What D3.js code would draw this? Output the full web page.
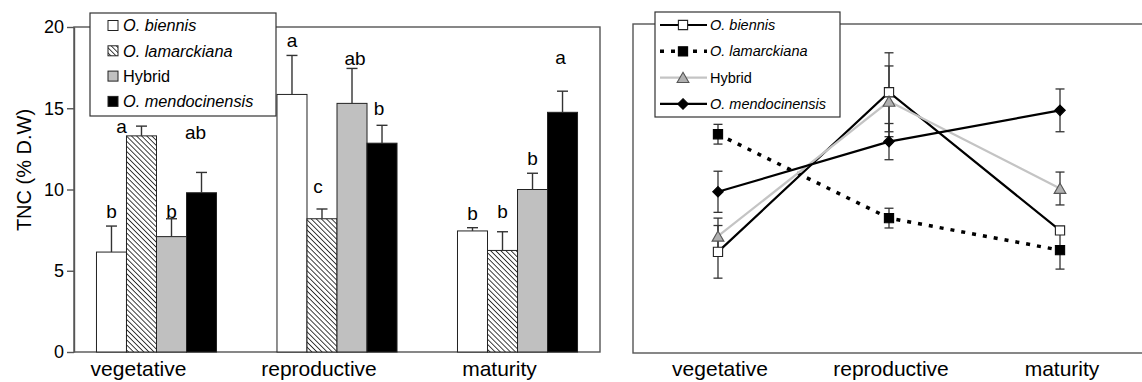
<!DOCTYPE html>
<meta charset="utf-8">
<style>
body { margin: 0; background: #fff; }
text { font-family: "Liberation Sans", Arial, sans-serif; fill: #000; }
</style>
<body>
<script src="https://d3js.org/d3.v7.min.js"></script>
<script>
var width = 1142,
    height = 382;

var stages = ["vegetative", "reproductive", "maturity"];
var species = ["O. biennis", "O. lamarckiana", "Hybrid", "O. mendocinensis"];
var italic = [true, true, false, true];

// mean TNC (% D.W) per species, in stage order
var biennis = [6.15, 15.85, 7.45];
var lamarckiana = [13.3, 8.2, 6.25];
var hybrid = [7.1, 15.3, 10.0];
var mendocinensis = [9.8, 12.85, 14.75];

// standard errors, in stage order
var biennisErr = [1.6, 2.4, 0.2];
var lamarckianaErr = [0.6, 0.6, 1.15];
var hybridErr = [1.1, 2.15, 1.0];
var mendocinensisErr = [1.25, 1.1, 1.3];

// significance letters per stage (species order)
var letters = [["b", "a", "b", "ab"], ["a", "c", "ab", "b"], ["b", "b", "b", "a"]];

var yTicks = [0, 5, 10, 15, 20];

var means = [biennis, lamarckiana, hybrid, mendocinensis];
var errs = [biennisErr, lamarckianaErr, hybridErr, mendocinensisErr];

var rows = [];
stages.forEach(function(st, i) {
  species.forEach(function(sp, j) {
    rows.push({stage: st, sp: sp, si: i, j: j, mean: means[j][i], err: errs[j][i], letter: letters[i][j]});
  });
});

var svg = d3.select("body").append("svg")
    .attr("width", width)
    .attr("height", height);

var defs = svg.append("defs");
var hatch = defs.append("pattern")
    .attr("id", "hatch")
    .attr("patternUnits", "userSpaceOnUse")
    .attr("width", 3.6)
    .attr("height", 3.6)
    .attr("patternTransform", "rotate(-45)");
hatch.append("rect").attr("width", 3.6).attr("height", 3.6).attr("fill", "#fff");
hatch.append("line")
    .attr("x1", 0).attr("y1", 0).attr("x2", 0).attr("y2", 3.6)
    .attr("stroke", "#111").attr("stroke-width", 1.6);

var fills = ["#fff", "url(#hatch)", "#c0c0c0", "#000"];
var axisColor = "#555";

// ---------------- left panel: bars ----------------
var x0 = d3.scaleBand()
    .domain(stages)
    .range([74, 600])
    .paddingInner(0.335)
    .paddingOuter(0.1245);
var x1 = d3.scaleBand()
    .domain(species)
    .range([0, x0.bandwidth()]);
var y = d3.scaleLinear()
    .domain([0, 20])
    .range([352, 27]);

var left = svg.append("g");

left.append("rect")
    .attr("x", x0.range()[0]).attr("y", y(20))
    .attr("width", x0.range()[1] - x0.range()[0])
    .attr("height", y(0) - y(20))
    .attr("fill", "none")
    .attr("stroke", axisColor)
    .attr("stroke-width", 1.4);

var yAxis = left.append("g")
    .attr("transform", "translate(" + x0.range()[0] + ",0)")
    .call(d3.axisLeft(y).tickValues(yTicks).tickSize(7).tickPadding(3).tickSizeOuter(0));
yAxis.select(".domain").attr("stroke", axisColor).attr("stroke-width", 1.4);
yAxis.selectAll(".tick line").attr("stroke", axisColor).attr("stroke-width", 1.4);
yAxis.selectAll("text").style("font-size", "18px").attr("fill", "#000");

left.append("text")
    .attr("transform", "translate(31,170) rotate(-90)")
    .attr("text-anchor", "middle")
    .style("font-size", "20px")
    .text("TNC (% D.W)");

// category labels sit a little left of the bar groups in the original
left.selectAll(".cat")
    .data(stages)
  .enter().append("text")
    .attr("x", function(d) { return x0(d) + x0.bandwidth() / 2 - 18; })
    .attr("y", 376)
    .attr("text-anchor", "middle")
    .style("font-size", "21px")
    .text(function(d) { return d; });

function bx(d) { return x0(d.stage) + x1(d.sp); }

left.selectAll(".bar")
    .data(rows)
  .enter().append("rect")
    .attr("x", bx)
    .attr("y", function(d) { return y(d.mean); })
    .attr("width", x1.bandwidth())
    .attr("height", function(d) { return y(0) - y(d.mean); })
    .attr("fill", function(d) { return fills[d.j]; })
    .attr("stroke", "#222")
    .attr("stroke-width", 1);

var eb = left.selectAll(".eb")
    .data(rows)
  .enter().append("g")
    .attr("stroke", "#333")
    .attr("stroke-width", 1.4);
eb.append("line")
    .attr("x1", function(d) { return bx(d) + x1.bandwidth() / 2; })
    .attr("x2", function(d) { return bx(d) + x1.bandwidth() / 2; })
    .attr("y1", function(d) { return y(d.mean); })
    .attr("y2", function(d) { return y(d.mean + d.err); });
eb.append("line")
    .attr("x1", function(d) { return bx(d) + x1.bandwidth() / 2 - 5.5; })
    .attr("x2", function(d) { return bx(d) + x1.bandwidth() / 2 + 5.5; })
    .attr("y1", function(d) { return y(d.mean + d.err); })
    .attr("y2", function(d) { return y(d.mean + d.err); });

// small hand placement of letters, as in the original figure
var nudge = [[0, 0], [-20, 15], [0, 7], [-6, -25],
             [0, 0], [-4, -8], [3, 5], [-3, -2],
             [0, 0], [0, -6], [0, 0], [-2, -19]];

left.selectAll(".letter")
    .data(rows)
  .enter().append("text")
    .attr("x", function(d, i) { return bx(d) + x1.bandwidth() / 2 + nudge[i][0]; })
    .attr("y", function(d, i) { return y(d.mean + d.err) - 8 + nudge[i][1]; })
    .attr("text-anchor", "middle")
    .style("font-size", "19px")
    .text(function(d) { return d.letter; });

// legend
var lg = left.append("g").attr("transform", "translate(90,13)");
lg.append("rect")
    .attr("width", 186).attr("height", 103)
    .attr("fill", "#fff")
    .attr("stroke", "#333")
    .attr("stroke-width", 1.2);
var lgi = lg.selectAll(".item")
    .data(species)
  .enter().append("g")
    .attr("transform", function(d, i) { return "translate(0," + (12.5 + i * 25.3) + ")"; });
lgi.append("rect")
    .attr("x", 18).attr("y", -5)
    .attr("width", 10).attr("height", 10)
    .attr("fill", function(d, i) { return fills[i]; })
    .attr("stroke", "#222");
lgi.append("text")
    .attr("x", 33)
    .attr("dy", "0.35em")
    .style("font-size", "16.3px")
    .style("font-style", function(d, i) { return italic[i] ? "italic" : "normal"; })
    .text(function(d) { return d; });

// ---------------- right panel: lines ----------------
var xr = d3.scalePoint()
    .domain(stages)
    .range([633, 1145])
    .padding(0.497);
var yr = d3.scaleLinear()
    .domain([0, 20])
    .range([353, 24]);

var right = svg.append("g");

right.append("rect")
    .attr("x", 633).attr("y", yr(20))
    .attr("width", 530)
    .attr("height", yr(0) - yr(20))
    .attr("fill", "none")
    .attr("stroke", axisColor)
    .attr("stroke-width", 1.4);

right.selectAll(".cat")
    .data(stages)
  .enter().append("text")
    .attr("x", function(d) { return xr(d) + 2; })
    .attr("y", 376)
    .attr("text-anchor", "middle")
    .style("font-size", "21px")
    .text(function(d) { return d; });

var lineStyle = [
  {stroke: "#000", width: 2.2, dash: null},
  {stroke: "#000", width: 3.5, dash: "4,7"},
  {stroke: "#c4c4c4", width: 2.2, dash: null},
  {stroke: "#000", width: 2.2, dash: null}
];
var markStyle = [
  {type: d3.symbolSquare, size: 85, fill: "#fff", stroke: "#222"},
  {type: d3.symbolSquare, size: 85, fill: "#000", stroke: "#000"},
  {type: d3.symbolTriangle, size: 60, fill: "#b0b0b0", stroke: "#555"},
  {type: d3.symbolDiamond2, size: 70, fill: "#000", stroke: "#000"}
];

var line = d3.line()
    .x(function(d) { return xr(d.stage); })
    .y(function(d) { return yr(d.mean); });

var bySp = species.map(function(sp) { return rows.filter(function(r) { return r.sp === sp; }); });

right.selectAll(".series")
    .data(bySp)
  .enter().append("path")
    .attr("d", line)
    .attr("fill", "none")
    .attr("stroke", function(d, i) { return lineStyle[i].stroke; })
    .attr("stroke-width", function(d, i) { return lineStyle[i].width; })
    .attr("stroke-dasharray", function(d, i) { return lineStyle[i].dash; });

var reb = right.selectAll(".eb")
    .data(rows)
  .enter().append("g")
    .attr("stroke", "#333")
    .attr("stroke-width", 1.3);
reb.append("line")
    .attr("x1", function(d) { return xr(d.stage); })
    .attr("x2", function(d) { return xr(d.stage); })
    .attr("y1", function(d) { return yr(d.mean - d.err); })
    .attr("y2", function(d) { return yr(d.mean + d.err); });
[-1, 1].forEach(function(s) {
  reb.append("line")
      .attr("x1", function(d) { return xr(d.stage) - 4.5; })
      .attr("x2", function(d) { return xr(d.stage) + 4.5; })
      .attr("y1", function(d) { return yr(d.mean + s * d.err); })
      .attr("y2", function(d) { return yr(d.mean + s * d.err); });
});

right.selectAll(".mark")
    .data(rows)
  .enter().append("path")
    .attr("transform", function(d) {
      return "translate(" + xr(d.stage) + "," + (yr(d.mean) + (d.j === 2 ? 1.5 : 0)) + ")";
    })
    .attr("d", function(d) { return d3.symbol().type(markStyle[d.j].type).size(markStyle[d.j].size)(); })
    .attr("fill", function(d) { return markStyle[d.j].fill; })
    .attr("stroke", function(d) { return markStyle[d.j].stroke; })
    .attr("stroke-width", 1.1);

// legend
var rl = right.append("g").attr("transform", "translate(655,12)");
rl.append("rect")
    .attr("width", 185).attr("height", 105)
    .attr("fill", "#fff")
    .attr("stroke", "#333")
    .attr("stroke-width", 1.2);
var rli = rl.selectAll(".item")
    .data(species)
  .enter().append("g")
    .attr("transform", function(d, i) { return "translate(0," + (13 + i * 26.3) + ")"; });
rli.append("line")
    .attr("x1", 5).attr("x2", 52)
    .attr("stroke", function(d, i) { return lineStyle[i].stroke; })
    .attr("stroke-width", function(d, i) { return lineStyle[i].width; })
    .attr("stroke-dasharray", function(d, i) { return lineStyle[i].dash; });
rli.append("path")
    .attr("transform", function(d, i) { return "translate(28," + (i === 2 ? 1.5 : 0) + ")"; })
    .attr("d", function(d, i) { return d3.symbol().type(markStyle[i].type).size(markStyle[i].size)(); })
    .attr("fill", function(d, i) { return markStyle[i].fill; })
    .attr("stroke", function(d, i) { return markStyle[i].stroke; })
    .attr("stroke-width", 1.1);
rli.append("text")
    .attr("x", 55)
    .attr("dy", "0.35em")
    .style("font-size", "14.5px")
    .style("font-style", function(d, i) { return italic[i] ? "italic" : "normal"; })
    .text(function(d) { return d; });
</script>
</body>
</html>
